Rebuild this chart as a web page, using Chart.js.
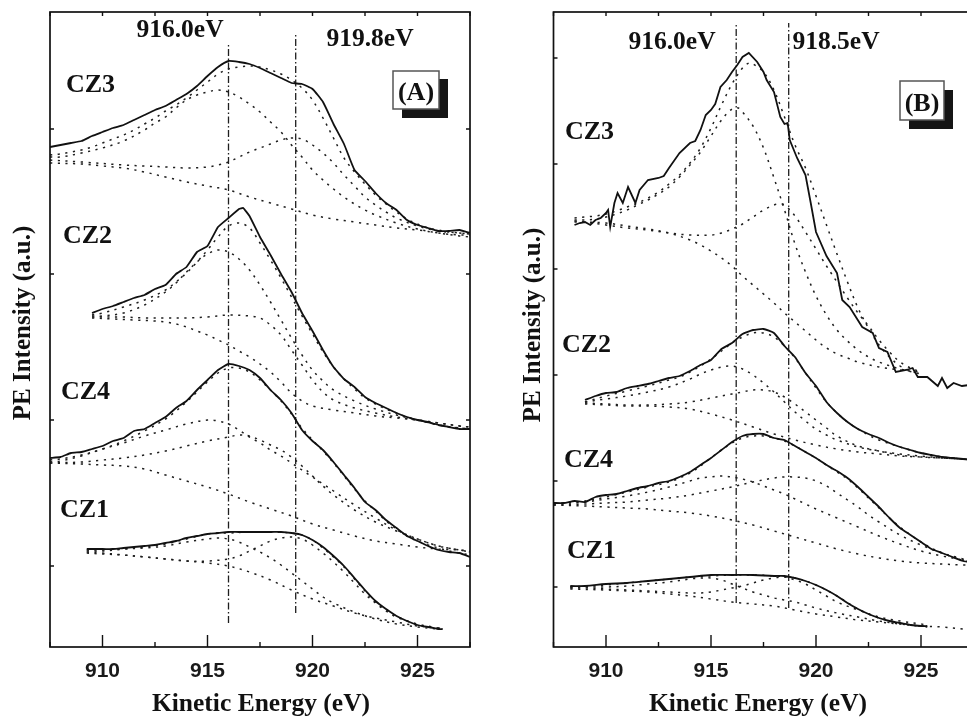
<!DOCTYPE html>
<html><head><meta charset="utf-8">
<script src="https://cdn.jsdelivr.net/npm/chart.js@4.4.1/dist/chart.umd.min.js"></script>
<style>
html,body{margin:0;padding:0;background:#fff;width:967px;height:718px;overflow:hidden;position:relative;}
canvas{position:absolute;top:0;}
#cA{left:0;}
#cB{left:490px;}
svg{position:absolute;left:0;top:0;pointer-events:none;}
.serif{font-family:"Liberation Serif","Times New Roman",serif;font-weight:bold;fill:#111;}
</style></head>
<body>
<canvas id="cA" width="490" height="718"></canvas>
<canvas id="cB" width="510" height="718"></canvas>
<svg width="967" height="718" viewBox="0 0 967 718">
  <text class="serif" font-size="25" text-anchor="middle" transform="translate(30,323) rotate(-90)">PE Intensity (a.u.)</text>
  <text class="serif" font-size="25" text-anchor="middle" transform="translate(540,325) rotate(-90)">PE Intensity (a.u.)</text>
  <text class="serif" font-size="25.5" text-anchor="middle" x="261" y="711">Kinetic Energy (eV)</text>
  <text class="serif" font-size="25.5" text-anchor="middle" x="758" y="711">Kinetic Energy (eV)</text>
  <text class="serif" font-size="25.5" text-anchor="middle" x="180" y="37">916.0eV</text>
  <text class="serif" font-size="25.5" text-anchor="middle" x="370" y="46">919.8eV</text>
  <text class="serif" font-size="25.5" text-anchor="middle" x="672" y="49">916.0eV</text>
  <text class="serif" font-size="25.5" text-anchor="middle" x="836" y="49">918.5eV</text>
  <text class="serif" font-size="26" x="66" y="92">CZ3</text>
  <text class="serif" font-size="26" x="63" y="243">CZ2</text>
  <text class="serif" font-size="26" x="61" y="399">CZ4</text>
  <text class="serif" font-size="26" x="60" y="517">CZ1</text>
  <text class="serif" font-size="26" x="565" y="139">CZ3</text>
  <text class="serif" font-size="26" x="562" y="352">CZ2</text>
  <text class="serif" font-size="26" x="564" y="467">CZ4</text>
  <text class="serif" font-size="26" x="567" y="558">CZ1</text>
  <rect x="402" y="79" width="46" height="39" fill="#151515"/>
  <rect x="393" y="71" width="46" height="38" fill="#fff" stroke="#555" stroke-width="1.5"/>
  <text class="serif" font-size="26" text-anchor="middle" x="416" y="100">(A)</text>
  <rect x="909" y="90" width="44" height="39" fill="#151515"/>
  <rect x="900" y="81" width="44" height="39" fill="#fff" stroke="#555" stroke-width="1.5"/>
  <text class="serif" font-size="26" text-anchor="middle" x="922" y="111">(B)</text>
</svg>
<script>
// ---------- axes ----------
const xTickValues = [907.5, 910, 912.5, 915, 917.5, 920, 922.5, 925, 927.5];
const xTickLabels = [910, 915, 920, 925];
const yTicksA = [81, 227, 373, 518];
const yTicksB = [60, 166, 272, 378, 483, 589];
// marker lines: energy (eV) and vertical extent (a.u.)
const markersA = [[916.0, 24, 602], [919.2, 34, 612]];
const markersB = [[916.2, 44, 622], [918.7, 39, 624]];

// ---------- Panel A ----------
const A_CZ3_data = [[907.5,500],[908,502],[908.5,504],[909,506],[909.5,511],[910,515],[910.5,519],[911,522],[911.5,527],[912,532],[912.5,537],[913,541],[913.5,547],[914,553],[914.5,561],[915,571],[915.5,580],[916,586],[916.5,585],[917,583],[917.5,579],[918,574],[918.5,569],[919,564],[919.5,563],[920,558],[920.5,545],[921,523],[921.5,503],[922,477],[922.5,466],[923,454],[923.5,444],[924,437],[924.5,427],[925,422],[925.5,419],[926,416],[926.5,416],[927,417],[927.5,414]];
const A_CZ3_fit = [[907.5,492],[908,493],[908.5,495],[909,497],[909.5,500],[910,504],[910.5,508],[911,512],[911.5,517],[912,523],[912.5,529],[913,536],[913.5,542],[914,549],[914.5,557],[915,565],[915.5,573],[916,578],[916.5,580],[917,581],[917.5,580],[918,577],[918.5,573],[919,567],[919.5,559],[920,547],[920.5,529],[921,509],[921.5,489],[922,475],[922.5,463],[923,452],[923.5,443],[924,435],[924.5,428],[925,423],[925.5,419],[926,417],[926.5,415],[927,414],[927.5,413]];
const A_CZ3_peak1 = [[907.5,490],[908,490],[909,494],[910,499],[911,506],[912,517],[912.5,524],[913,530],[913.5,539],[914,547],[914.5,552],[915,555],[915.5,557],[916,555],[916.5,550],[917,543],[917.5,535],[918,525],[918.5,515],[919,502],[919.5,490],[920,477],[920.5,467],[921,458],[921.5,450],[922,443],[922.5,437],[923,432],[924,424],[925,418],[926,414],[927,412],[927.5,412]];
const A_CZ3_peak2 = [[907.5,487],[909,485],[911,482],[912,481],[913,480],[914,479],[915,480],[915.5,482],[916,485],[916.5,490],[917,495],[917.5,499],[918,503],[918.5,507],[919,509],[919.5,508],[920,502],[920.5,494],[921,484],[921.5,472],[922,461],[922.5,450],[923,442],[923.5,435],[924,429],[925,421],[926,416],[927,414],[927.5,413]];
const A_CZ3_bg = [[907.5,484],[909,483],[910,481],[911,479],[912,475],[913,470],[914,465],[915,461],[916,457],[917,450],[918,444],[919,438],[920,432],[921,428],[922,425],[923,422],[924,419],[925,417],[926,414],[927,411],[927.5,410]];

const A_CZ2_data = [[909.5,334],[910,338],[910.5,341],[911,345],[911.5,349],[912,352],[912.5,358],[913,362],[913.5,373],[914,380],[914.5,395],[915,401],[915.5,420],[916,429],[916.5,438],[916.7,439],[917,431],[917.5,410],[918,392],[918.5,373],[919,355],[919.5,334],[920,316],[920.5,297],[921,280],[921.5,268],[922,260],[922.5,250],[923,244],[923.5,239],[924,234],[924.5,230],[925,227],[925.5,225],[926,222],[926.5,220],[927,218],[927.5,218]];
const A_CZ2_fit = [[909.5,332],[910,334],[911,340],[912,347],[913,357],[913.5,365],[914,374],[914.5,385],[915,397],[915.5,410],[916,421],[916.5,424],[917,419],[917.5,404],[918,387],[918.5,369],[919,350],[919.5,331],[920,313],[920.5,295],[921,280],[921.5,268],[922,258],[922.5,249],[923,243],[923.5,238],[924,234],[924.5,230],[925,227],[926,222],[927,219],[927.5,218]];
const A_CZ2_peak1 = [[909.5,331],[910,331],[911,334],[912,342],[913,355],[913.5,364],[914,375],[914.5,385],[915,393],[915.5,397],[916,395],[916.5,388],[917,377],[917.5,362],[918,345],[918.5,327],[919,309],[919.5,292],[920,277],[920.5,266],[921,257],[922,246],[923,238],[924,232],[925,227],[926,222],[927,219],[927.5,218]];
const A_CZ2_peak2 = [[909.5,330],[911,330],[912,329],[913,329],[914,329],[915,330],[916,332],[917,331],[917.5,329],[918,322],[918.5,312],[919,297],[919.5,282],[920,267],[920.5,255],[921,247],[922,239],[923,234],[924,230],[925,227],[926,224],[927,221],[927.5,220]];
const A_CZ2_bg = [[909.5,329],[910.5,328],[911.5,327],[912.5,326],[913,325],[913.5,323],[914,320],[914.5,316],[915,312],[915.5,307],[916,302],[916.5,296],[917,290],[917.5,283],[918,275],[918.5,265],[919,254],[919.5,246],[920,241],[921,237],[922,234],[923,231],[924,229],[925,227],[926,224],[927,221],[927.5,220]];

const A_CZ4_data = [[907.5,189],[908,190],[908.5,194],[909,195],[909.5,198],[910,201],[910.5,206],[911,209],[911.5,216],[912,218],[912.5,224],[913,230],[913.5,239],[914,246],[914.5,257],[915,267],[915.5,277],[916,283],[916.5,281],[917,277],[917.5,269],[918,257],[918.5,247],[919,234],[919.5,217],[920,206],[920.5,197],[921,185],[921.5,172],[922,159],[922.5,145],[923,137],[923.5,127],[924,119],[924.5,111],[925,106],[925.5,101],[926,97],[926.5,95],[927,94],[927.5,90]];
const A_CZ4_fit = [[907.5,187],[908,188],[909,192],[910,198],[911,206],[912,216],[913,228],[913.5,236],[914,245],[914.5,255],[915,265],[915.5,274],[916,279],[916.5,279],[917,275],[917.5,267],[918,257],[918.5,246],[919,233],[919.5,219],[920,207],[920.5,196],[921,184],[921.5,171],[922,158],[922.5,146],[923,136],[923.5,126],[924,118],[924.5,111],[925,106],[925.5,102],[926,99],[926.5,96],[927,94],[927.5,92]];
const A_CZ4_peak1 = [[907.5,185],[908,186],[909,191],[910,198],[911,204],[912,211],[913,217],[914,223],[915,227],[915.5,226],[916,223],[916.5,217],[917,210],[917.5,204],[918,197],[918.5,191],[919,184],[919.5,177],[920,170],[920.5,163],[921,156],[922,142],[923,129],[924,117],[925,108],[926,101],[927,97],[927.5,95]];
const A_CZ4_peak2 = [[907.5,184],[909,185],[910,187],[911,189],[912,192],[913,196],[914,201],[915,206],[916,210],[916.5,212],[917,211],[917.5,207],[918,202],[918.5,197],[919,190],[919.5,181],[920,171],[920.5,161],[921,152],[922,137],[923,125],[924,116],[925,108],[926,101],[927,97],[927.5,95]];
const A_CZ4_bg = [[907.5,184],[909,183],[910,182],[911,181],[912,178],[913,172],[914,166],[915,160],[916,153],[917,145],[918,138],[919,131],[920,123],[921,117],[922,111],[923,106],[924,103],[925,100],[926,98],[927,97],[927.5,96]];

const A_CZ1_data = [[909.25,98],[910,98],[910.5,98],[911,99],[911.5,100],[912,101],[912.5,102],[913,104],[913.5,106],[914,109],[914.5,111],[915,113],[915.5,114],[916,115],[916.5,115],[917,115],[917.5,115],[918,115],[918.5,115],[919,114],[919.5,112],[920,107],[920.5,100],[921,91],[921.5,81],[922,69],[922.5,57],[923,46],[923.5,38],[924,31],[924.5,26],[925,22],[925.5,20],[926,18],[926.2,18]];
const A_CZ1_fit = [[909.25,96],[910,96],[911,98],[912,100],[913,103],[914,108],[915,113],[915.5,114],[916,114],[917,115],[918,115],[919,114],[919.5,112],[920,107],[920.5,99],[921,90],[921.5,80],[922,68],[922.5,56],[923,45],[923.5,37],[924,31],[924.5,26],[925,22],[925.5,20],[926,18]];
const A_CZ1_peak1 = [[909.25,97],[910,97],[911,98],[912,99],[913,101],[914,105],[915,108],[915.5,109],[916,108],[916.5,105],[917,100],[917.5,95],[918,89],[918.5,82],[919,74],[919.5,66],[920,58],[920.5,50],[921,44],[922,35],[923,28],[924,23],[925,20],[926,18]];
const A_CZ1_peak2 = [[909.25,94],[910,93],[911,92],[912,90],[913,88],[914,86],[915,86],[916,88],[916.5,91],[917,96],[917.5,101],[918,106],[918.5,109],[919,110],[919.5,108],[920,102],[920.5,94],[921,85],[921.5,75],[922,64],[922.5,53],[923,44],[923.5,36],[924,30],[925,23],[926,19],[926.2,18]];
const A_CZ1_bg = [[909.25,95],[910,94],[911,92],[912,90],[913,88],[914,86],[915,84],[916,81],[917,75],[918,67],[919,57],[920,48],[921,41],[922,34],[923,29],[924,25],[925,21],[926,19],[926.2,18]];

// ---------- Panel B ----------
const B_CZ3_data = [[908.5,422],[908.75,424],[909,425],[909.25,422],[909.5,427],[909.75,429],[910,434],[910.1,437],[910.2,420],[910.4,444],[910.55,454],[910.8,444],[911.05,460],[911.4,444],[911.6,457],[912,467],[912.5,469],[912.75,471],[913,479],[913.5,494],[914,504],[914.25,506],[914.5,517],[914.75,532],[915,537],[915.2,543],[915.45,560],[915.75,567],[916,575],[916.25,582],[916.5,590],[916.8,594],[917.2,585],[917.5,575],[917.65,567],[918,555],[918.3,530],[918.5,523],[918.65,524],[918.75,507],[919.1,489],[919.5,472],[919.75,444],[920,415],[920.5,391],[921,374],[921.25,347],[921.6,340],[922.2,320],[922.7,314],[923,299],[923.4,295],[923.8,275],[924.3,277],[924.6,279],[924.85,270],[925.3,270],[925.8,261],[926,269],[926.25,259],[926.55,264],[926.95,261],[927.3,262]];
const B_CZ3_fit = [[908.5,429],[909,430],[909.5,431],[910,433],[910.5,436],[911,440],[911.5,444],[912,449],[912.5,455],[913,463],[913.5,472],[914,484],[914.5,499],[915,519],[915.5,542],[916,563],[916.5,579],[916.8,584],[917,583],[917.5,575],[918,557],[918.5,530],[919,502],[919.5,479],[920,451],[920.5,422],[921,393],[921.5,365],[922,339],[922.5,319],[923,302],[923.5,290],[924,281],[924.5,276],[925,273]];
const B_CZ3_peak1 = [[908.5,427],[909,427],[909.5,428],[910,430],[910.5,433],[911,437],[911.5,442],[912,447],[912.5,453],[913,460],[913.5,470],[914,482],[914.5,495],[915,511],[915.5,527],[916,538],[916.3,539],[916.5,535],[917,521],[917.5,499],[918,469],[918.5,437],[919,403],[919.5,375],[920,351],[920.5,332],[921,317],[921.5,306],[922,297],[922.5,290],[923,285],[924,278],[925,273]];
const B_CZ3_peak2 = [[908.5,426],[909,425],[910,422],[911,419],[912,417],[913,414],[914,412],[915,412],[915.5,414],[916,418],[916.5,423],[917,430],[917.5,437],[918,442],[918.25,443],[918.5,442],[919,431],[919.5,415],[920,398],[920.5,381],[921,365],[921.5,349],[922,334],[922.5,321],[923,307],[923.5,295],[924,285],[924.5,279],[925,275]];
const B_CZ3_bg = [[908.5,425],[909,425],[910,424],[911,421],[912,418],[913,414],[914,407],[914.5,402],[915,396],[915.5,389],[916,381],[916.5,371],[917,362],[917.5,353],[918,344],[918.5,334],[919,325],[919.5,316],[920,307],[920.5,299],[921,293],[921.5,289],[922,285],[923,280],[924,277],[925,275]];

const B_CZ2_data = [[909,247],[909.5,251],[910,254],[910.5,255],[911,259],[911.5,261],[912,263],[912.5,266],[913,269],[913.5,271],[914,276],[914.5,282],[915,287],[915.5,298],[916,304],[916.5,313],[917,317],[917.5,318],[918,314],[918.5,301],[919,290],[919.5,274],[920,261],[920.5,245],[921,234],[921.5,225],[922,218],[922.5,213],[923,209],[923.5,204],[924,200],[924.5,197],[925,194],[925.5,192],[926,190],[926.5,189],[927,188],[927.5,187]];
const B_CZ2_fit = [[909,245],[910,251],[911,256],[912,261],[913,267],[913.5,270],[914,275],[914.5,281],[915,288],[915.5,296],[916,304],[916.5,310],[917,314],[917.5,314],[918,310],[918.5,301],[919,289],[919.5,274],[920,259],[920.5,245],[921,234],[921.5,225],[922,218],[922.5,212],[923,207],[924,200],[925,194],[926,190],[927,188],[927.5,187]];
const B_CZ2_peak1 = [[909,245],[910,248],[911,251],[912,255],[913,260],[914,268],[914.5,273],[915,277],[915.5,280],[916,281],[916.5,278],[917,272],[917.5,264],[918,255],[918.5,245],[919,235],[919.5,226],[920,218],[920.5,212],[921,207],[922,200],[923,196],[924,193],[925,191],[926,189],[927,188],[927.5,187]];
const B_CZ2_peak2 = [[909,244],[910,243],[911,242],[912,242],[913,243],[914,245],[915,249],[916,253],[916.5,255],[917,257],[917.5,257],[918,255],[918.5,250],[919,243],[919.5,235],[920,227],[920.5,219],[921,211],[922,201],[923,196],[924,192],[925,190],[926,189],[927,188],[927.5,187]];
const B_CZ2_bg = [[909,243],[910,242],[911,241],[912,241],[913,240],[914,238],[915,233],[916,227],[917,220],[918,213],[919,207],[920,202],[921,198],[922,195],[923,193],[924,191],[925,190],[926,189],[927,188],[927.5,187]];

const B_CZ4_data = [[907.5,144],[908,144],[908.5,146],[909,145],[909.5,150],[910,152],[910.5,153],[911,156],[911.5,159],[912,161],[912.5,164],[913,166],[913.5,170],[914,175],[914.5,182],[915,189],[915.5,197],[916,205],[916.5,211],[917,213],[917.5,213],[918,209],[918.5,207],[919,201],[919.5,195],[920,189],[920.5,182],[921,176],[921.5,169],[922,160],[922.5,150],[923,140],[923.5,129],[924,119],[924.5,112],[925,105],[925.5,98],[926,94],[926.5,90],[927,86],[927.5,84]];
const B_CZ4_fit = [[907.5,143],[908,144],[909,146],[910,150],[911,155],[912,160],[913,165],[913.5,169],[914,174],[914.5,181],[915,189],[915.5,197],[916,204],[916.5,209],[917,211],[917.5,211],[918,209],[918.5,206],[919,201],[919.5,195],[920,189],[920.5,182],[921,175],[921.5,168],[922,159],[922.5,149],[923,139],[923.5,129],[924,120],[924.5,112],[925,105],[925.5,99],[926,94],[926.5,90],[927,87],[927.5,85]];
const B_CZ4_peak1 = [[907.5,143],[909,145],[910,148],[911,151],[912,155],[913,160],[914,166],[914.5,169],[915,170],[915.5,171],[916,170],[916.5,168],[917,165],[917.5,161],[918,157],[918.5,153],[919,148],[919.5,143],[920,138],[921,129],[922,120],[923,111],[924,103],[925,96],[926,91],[927,87],[927.5,85]];
const B_CZ4_peak2 = [[907.5,142],[909,143],[910,144],[911,145],[912,147],[913,149],[914,152],[915,156],[916,160],[917,165],[918,169],[918.5,170],[919,170],[919.5,169],[920,166],[920.5,161],[921,154],[921.5,147],[922,140],[922.5,132],[923,125],[924,112],[925,102],[926,94],[927,88],[927.5,85]];
const B_CZ4_bg = [[907.5,142],[909,141],[910,140],[911,139],[912,138],[913,136],[914,134],[915,131],[916,127],[917,122],[918,116],[919,110],[920,104],[921,98],[922,93],[923,89],[924,86],[925,84],[926,83],[927,82],[927.5,82]];

const B_CZ1_data = [[908.3,61],[909,61],[910,63],[911,64],[912,66],[913,68],[914,70],[915,72],[916,72],[917,72],[918,71],[918.5,71],[919,69],[919.5,66],[920,62],[920.5,57],[921,51],[921.5,44],[922,38],[922.5,33],[923,29],[923.5,26],[924,24],[924.5,22],[925,21],[925.3,21]];
const B_CZ1_fit = [[908.3,60],[910,62],[911,64],[912,66],[913,68],[914,70],[915,71],[916,72],[917,72],[918,71],[919,69],[920,62],[921,51],[922,38],[923,29],[924,24],[925,21],[925.3,21]];
const B_CZ1_peak1 = [[908.3,60],[909,60],[910,60],[911,61],[912,63],[913,65],[914,68],[914.5,69],[915,69],[915.5,67],[916,63],[916.5,59],[917,55],[917.5,52],[918,49],[918.5,47],[919,45],[919.5,42],[920,39],[921,34],[922,30],[923,26],[924,23],[925,21],[925.3,20]];
const B_CZ1_peak2 = [[908.3,59],[909,59],[910,58],[911,57],[912,56],[913,55],[914,54],[914.5,54],[915,55],[915.5,57],[916,59],[916.5,61],[917,64],[917.5,67],[918,69],[918.5,70],[919,67],[919.5,63],[920,57],[920.5,51],[921,45],[922,37],[923,30],[924,26],[925,23],[925.3,22]];
const B_CZ1_bg = [[908.3,58],[910,57],[911,56],[912,55],[913,53],[914,51],[915,48],[916,45],[917,43],[918,41],[919,37],[920,33],[921,30],[922,27],[923,25],[924,23],[925,21],[926,20],[927,18],[927.5,17]];

// ---------- build ----------
const toXY = arr => arr.map(p => ({x: p[0], y: p[1]}));
function solid(arr, tension){ return {data: toXY(arr), borderColor:'#111', borderWidth:1.8, pointRadius:0, showLine:true, tension: tension, order:0}; }
function dotted(arr){ return {data: toXY(arr), borderColor:'#1e1e1e', borderWidth:1.5, borderDash:[2.2,5.5], pointRadius:0, showLine:true, tension:0.35, order:1}; }
function marker(m){ return {data:[{x:m[0],y:m[1]},{x:m[0],y:m[2]}], borderColor:'#1e1e1e', borderWidth:1.3, borderDash:[7,2.5,1.5,2.5], pointRadius:0, showLine:true, tension:0, order:2}; }

const framePlugin = {
  id:'frame',
  afterDraw(chart, args, opts){
    const {ctx, chartArea:{left,right,top,bottom}, scales:{x,y}} = chart;
    ctx.save();
    ctx.strokeStyle='#111'; ctx.lineWidth=1.7;
    ctx.strokeRect(left, top, right-left, bottom-top);
    ctx.lineWidth=1.4;
    ctx.beginPath();
    xTickValues.forEach(v=>{
      const px = x.getPixelForValue(v);
      const major = xTickLabels.includes(v);
      ctx.moveTo(px, bottom); ctx.lineTo(px, bottom-(major?12:5));
      ctx.moveTo(px, top); ctx.lineTo(px, top+4);
    });
    opts.yTicks.forEach(v=>{
      const py = y.getPixelForValue(v);
      ctx.moveTo(left, py); ctx.lineTo(left+4, py);
      ctx.moveTo(right, py); ctx.lineTo(right-4, py);
    });
    ctx.stroke();
    ctx.restore();
  }
};

function makeChart(id, datasets, yTicks, padL, padR){
  return new Chart(document.getElementById(id), {
    type:'scatter',
    data:{datasets},
    plugins:[framePlugin],
    options:{
      responsive:false, animation:false, devicePixelRatio:1, events:[],
      layout:{padding:{left:padL, right:padR, top:12, bottom:0}},
      plugins:{legend:{display:false}, tooltip:{enabled:false}, frame:{yTicks}},
      scales:{
        x:{type:'linear', min:907.5, max:927.5,
           grid:{display:false}, border:{display:false},
           afterBuildTicks(s){ s.ticks = xTickValues.map(v=>({value:v})); },
           afterFit(s){ s.height = 71; },
           ticks:{autoSkip:false, maxRotation:0, padding:4, color:'#1a1a1a',
                  font:{family:'"Liberation Sans", Arial, sans-serif', weight:'bold', size:21},
                  callback:(v)=> xTickLabels.includes(v) ? String(v) : ''}},
        y:{type:'linear', display:false, min:0, max:635}
      }
    }
  });
}

const dsA = [
  solid(A_CZ3_data,0.15), solid(A_CZ2_data,0.1), solid(A_CZ4_data,0.15), solid(A_CZ1_data,0.35),
  dotted(A_CZ3_fit), dotted(A_CZ3_peak1), dotted(A_CZ3_peak2), dotted(A_CZ3_bg),
  dotted(A_CZ2_fit), dotted(A_CZ2_peak1), dotted(A_CZ2_peak2), dotted(A_CZ2_bg),
  dotted(A_CZ4_fit), dotted(A_CZ4_peak1), dotted(A_CZ4_peak2), dotted(A_CZ4_bg),
  dotted(A_CZ1_fit), dotted(A_CZ1_peak1), dotted(A_CZ1_peak2), dotted(A_CZ1_bg),
  ...markersA.map(marker)
];
const dsB = [
  solid(B_CZ3_data,0), solid(B_CZ2_data,0.15), solid(B_CZ4_data,0.15), solid(B_CZ1_data,0.35),
  dotted(B_CZ3_fit), dotted(B_CZ3_peak1), dotted(B_CZ3_peak2), dotted(B_CZ3_bg),
  dotted(B_CZ2_fit), dotted(B_CZ2_peak1), dotted(B_CZ2_peak2), dotted(B_CZ2_bg),
  dotted(B_CZ4_fit), dotted(B_CZ4_peak1), dotted(B_CZ4_peak2), dotted(B_CZ4_bg),
  dotted(B_CZ1_fit), dotted(B_CZ1_peak1), dotted(B_CZ1_peak2), dotted(B_CZ1_bg),
  ...markersB.map(marker)
];
makeChart('cA', dsA, yTicksA, 50, 20);
makeChart('cB', dsB, yTicksB, 63.5, 26.5);
</script>
</body></html>
